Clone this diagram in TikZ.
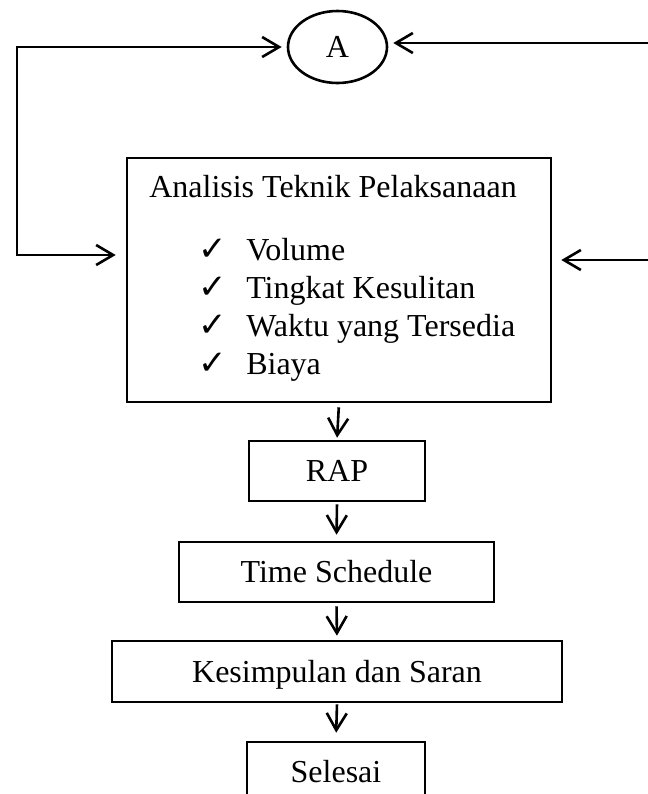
\documentclass[tikz,border=0pt]{standalone}
\usepackage{fontspec}
\setmainfont{Liberation Serif}
\newfontfamily\cekfont{DejaVu Sans}
\usepackage{tikz}
\usetikzlibrary{shapes.geometric,arrows.meta}
\newcommand{\cekmark}{{\cekfont\fontsize{17}{17}\selectfont ✓}}

\begin{document}
\begin{tikzpicture}[x=0.5pt,y=-0.5pt,
  font=\fontsize{16}{19}\selectfont, line width=1.3pt,
  kotak/.style={draw,rectangle,inner sep=0pt,text height=10.8pt,text depth=0pt},
  bulat/.style={draw,ellipse,inner sep=0pt,minimum width=49.5pt,minimum height=36pt},
  teks/.style={anchor=base west,inner sep=0pt},
  panah/.style={-{Straight Barb[length=8.5pt,width=10pt]}},
  duapanah/.style={{Straight Barb[length=8.5pt,width=10pt]}-{Straight Barb[length=8.5pt,width=10pt]}}]
\useasboundingbox (0,0) rectangle (648,794);
% simpul
\node[bulat] (A) at (337.5,47) {A};
\node[kotak,minimum width=212pt,minimum height=122pt] (analisis) at (339,280) {};
\node[teks] (judul) at (148,197) {Analisis Teknik Pelaksanaan};
\foreach \t [count=\i] in {Volume,Tingkat Kesulitan,Waktu yang Tersedia,Biaya}
  {\node[teks] (cek\i) at (197,{260+38.3*(\i-1)}) {\cekmark};
   \node[teks] (butir\i) at (245,{260+38.3*(\i-1)}) {\t};}
\node[kotak,minimum width=88pt,minimum height=30pt] (rap) at (337,471) {RAP};
\node[kotak,minimum width=157.5pt,minimum height=30pt] (jadwal) at (336.5,572) {Time Schedule};
\node[kotak,minimum width=225pt,minimum height=30.5pt] (simpulan) at (337,671.5) {Kesimpulan dan Saran};
\node[kotak,minimum width=89pt,minimum height=30pt] (selesai) at (336,772) {Selesai};
% titik ujung garis balik
\coordinate (kiriatas) at (17,47);
\coordinate (kiribawah) at (17,255);
\coordinate (kananatas) at (648,43);
\coordinate (kananbawah) at (648,260);
% garis
\draw[duapanah,shorten <=5pt,shorten >=2.5pt] (analisis.west |- kiribawah) -- (kiribawah)
  -- (kiriatas) -- (A.west);
\draw[panah,shorten >=2.5pt] (kananatas) -- (kananatas -| A.east);
\draw[panah,shorten >=4.5pt] (kananbawah) -- (kananbawah -| analisis.east);
\draw[panah,shorten <=2pt,shorten >=1pt] (analisis.south) -- (rap.north);
\draw[panah,shorten <=1pt,shorten >=3pt] (rap.south) -- (jadwal.north);
\draw[panah,shorten <=1.5pt,shorten >=2pt] (jadwal.south) -- (simpulan.north);
\draw[panah,shorten <=0.5pt,shorten >=4pt] (simpulan.south) -- (selesai.north);
\end{tikzpicture}
\end{document}
